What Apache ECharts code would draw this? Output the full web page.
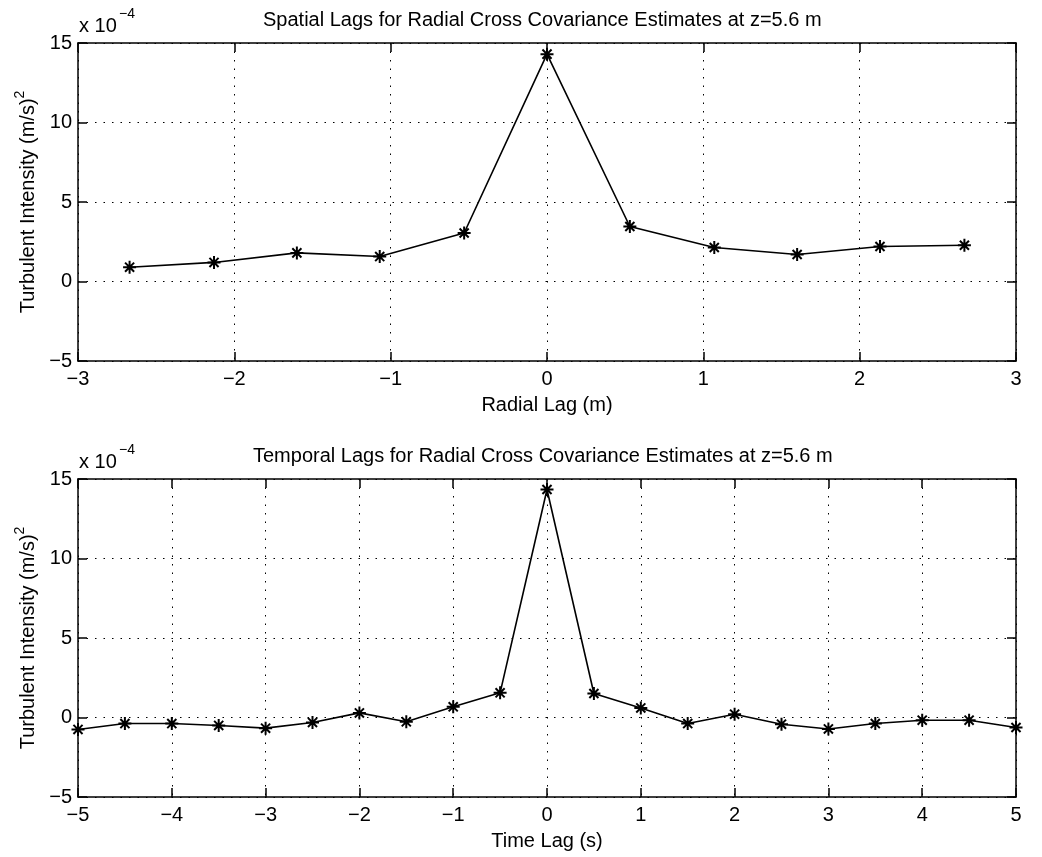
<!DOCTYPE html>
<html>
<head>
<meta charset="utf-8">
<script src="https://cdn.jsdelivr.net/npm/echarts@6/dist/echarts.min.js"></script>
<style>
html,body{margin:0;padding:0;background:#fff;}
#chart{width:1042px;height:857px;}
</style>
</head>
<body>
<div id="chart"></div>
<script>
// ---- data (values in units of 1e-4 (m/s)^2) ----
const spatialLag = [-2.67, -2.13, -1.6, -1.07, -0.53, 0, 0.53, 1.07, 1.6, 2.13, 2.67];
const spatialCov = [0.9, 1.2, 1.8, 1.57, 3.05, 14.3, 3.46, 2.14, 1.7, 2.2, 2.28];
const timeLag = [-5, -4.5, -4, -3.5, -3, -2.5, -2, -1.5, -1, -0.5, 0, 0.5, 1, 1.5, 2, 2.5, 3, 3.5, 4, 4.5, 5];
const timeCov = [-0.75, -0.38, -0.38, -0.5, -0.67, -0.31, 0.29, -0.27, 0.67, 1.55, 14.34, 1.51, 0.6, -0.38, 0.21, -0.42, -0.72, -0.38, -0.17, -0.17, -0.63];
const titles = [
  'Spatial Lags for Radial Cross Covariance Estimates at z=5.6 m',
  'Temporal Lags for Radial Cross Covariance Estimates at z=5.6 m'
];
const xNames = ['Radial Lag (m)', 'Time Lag (s)'];
const yName = 'Turbulent Intensity (m/s)';
const xRanges = [[-3, 3], [-5, 5]];
const yRange = [-5, 15];
const yTickStep = 5;
const xTickStep = 1;
const multiplierBase = 'x 10';
const multiplierExp = '\u22124';

const FONT = 'Liberation Sans, Arial, Helvetica, sans-serif';
const minus = v => String(v).replace('-', '\u2212');
const asterisk = 'path://M0,5L10,5M5,0L5,10M1.5,1.5L8.5,8.5M8.5,1.5L1.5,8.5';

const grids = [
  {left: 78, top: 43, width: 938, height: 318},
  {left: 78, top: 479, width: 938, height: 318}
];
const titleLefts = [258, 248];

const axisLineStyle = {color: '#000', width: 1.5};
const gridLineStyle = {color: '#000', width: 1, type: [1.5, 7]};

const xAxes = [], yAxes = [], series = [], titleArr = [];
[0, 1].forEach(i => {
  xAxes.push({
    type: 'value', gridIndex: i, min: xRanges[i][0], max: xRanges[i][1], interval: xTickStep,
    position: 'bottom',
    name: xNames[i], nameLocation: 'middle', nameGap: 34,
    nameTextStyle: {fontFamily: FONT, fontSize: 20, color: '#000'},
    axisLine: {show: true, onZero: false, lineStyle: axisLineStyle},
    axisTick: {show: true, inside: true, length: 9, lineStyle: axisLineStyle},
    axisLabel: {fontFamily: FONT, fontSize: 20, color: '#000', margin: 8, formatter: minus},
    splitLine: {show: true, lineStyle: gridLineStyle}
  });
  xAxes.push({
    type: 'value', gridIndex: i, min: xRanges[i][0], max: xRanges[i][1], interval: xTickStep,
    position: 'top',
    axisLine: {show: true, onZero: false, lineStyle: axisLineStyle},
    axisTick: {show: true, inside: true, length: 9, lineStyle: axisLineStyle},
    axisLabel: {show: false},
    splitLine: {show: false}
  });
  yAxes.push({
    type: 'value', gridIndex: i, min: yRange[0], max: yRange[1], interval: yTickStep,
    position: 'left',
    name: '{a|' + yName + '}{s|2}', nameLocation: 'middle', nameGap: 34, nameRotate: 90,
    nameTextStyle: {
      fontFamily: FONT, color: '#000',
      rich: {
        a: {fontFamily: FONT, fontSize: 20, color: '#000', lineHeight: 30},
        s: {fontFamily: FONT, fontSize: 14, color: '#000', lineHeight: 18, verticalAlign: 'top'}
      }
    },
    axisLine: {show: true, onZero: false, lineStyle: axisLineStyle},
    axisTick: {show: true, inside: true, length: 9, lineStyle: axisLineStyle},
    axisLabel: {fontFamily: FONT, fontSize: 20, color: '#000', margin: 6, formatter: minus},
    splitLine: {show: true, lineStyle: gridLineStyle}
  });
  yAxes.push({
    type: 'value', gridIndex: i, min: yRange[0], max: yRange[1], interval: yTickStep,
    position: 'right',
    axisLine: {show: true, onZero: false, lineStyle: axisLineStyle},
    axisTick: {show: true, inside: true, length: 9, lineStyle: axisLineStyle},
    axisLabel: {show: false},
    splitLine: {show: false}
  });
  const xs = i === 0 ? spatialLag : timeLag;
  const ys = i === 0 ? spatialCov : timeCov;
  series.push({
    type: 'line', xAxisIndex: i * 2, yAxisIndex: i * 2,
    data: xs.map((x, k) => [x, ys[k]]),
    symbol: asterisk, symbolSize: 13, showSymbol: true,
    lineStyle: {color: '#000', width: 1.6},
    itemStyle: {color: '#000', borderColor: '#000', borderWidth: 2},
    clip: false, animation: false, z: 5
  });
  titleArr.push({
    text: titles[i], left: titleLefts[i], top: grids[i].top - 38,
    textStyle: {fontFamily: FONT, fontSize: 20, fontWeight: 'normal', color: '#000'}
  });
  titleArr.push({
    text: multiplierBase, left: 74, top: grids[i].top - 32,
    textStyle: {fontFamily: FONT, fontSize: 20, fontWeight: 'normal', color: '#000'}
  });
  titleArr.push({
    text: multiplierExp, left: 114, top: grids[i].top - 41,
    textStyle: {fontFamily: FONT, fontSize: 14, fontWeight: 'normal', color: '#000'}
  });
});

const chart = echarts.init(document.getElementById('chart'), null, {renderer: 'canvas'});
chart.setOption({
  backgroundColor: '#fff',
  animation: false,
  title: titleArr,
  grid: grids,
  xAxis: xAxes,
  yAxis: yAxes,
  series: series
});
</script>
</body>
</html>
